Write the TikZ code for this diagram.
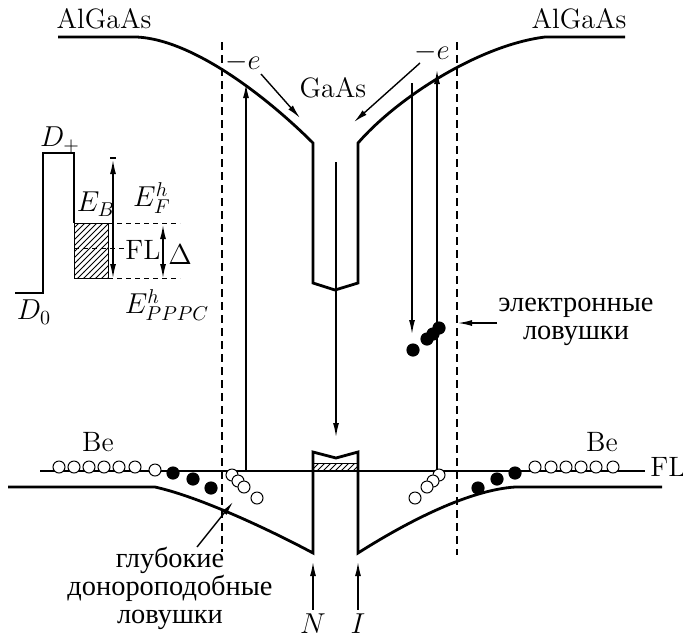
\documentclass[tikz,border=0pt]{standalone}
\usepackage{fontspec}
\newfontfamily\cyrfont{Liberation Serif}
\usetikzlibrary{arrows.meta,positioning,patterns}

\begin{document}
\begin{tikzpicture}[
        x=0.5pt, y=-0.5pt,
        >={Latex[length=7pt,width=3pt]},
        band/.style={line width=1.4pt, line join=miter},
        wire/.style={line width=0.7pt},
        guide/.style={line width=0.7pt, dash pattern=on 4pt off 2.5pt},
        fine/.style={line width=0.5pt, dash pattern=on 2.5pt off 2pt},
        arrow/.style={->, line width=0.7pt},
        lbl/.style={font=\fontsize{14}{16}\selectfont, inner sep=0pt},
        cyr/.style={font=\cyrfont\fontsize{14.2}{14}\selectfont, align=center, inner sep=0pt},
        hole/.style={draw, fill=white, line width=0.5pt},
        electron/.style={fill=black},
        hatch/.style={draw, line width=0.5pt, pattern=north east lines}
    ]
        \useasboundingbox (0,0) rectangle (683,638);

        % conduction band edge
        \draw[band] (58,37) -- (137,37) .. controls (195,40) and (270,100) .. (313,143)
            -- (313,283) -- (335,290) -- (358,283) -- (358,143)
            .. controls (398,97) and (480,45) .. (545,37) -- (625,37);
        % valence band edge
        \draw[band] (8,487) -- (155,487) .. controls (200,497) and (270,530) .. (313,553)
            -- (313,452) -- (336,458) -- (358,452) -- (358,553)
            .. controls (410,520) and (470,490) .. (515,487) -- (662,487);
        \draw[hatch] (313,463) rectangle (358,471);

        % Fermi level and boundaries
        \coordinate (flL) at (40,471);
        \coordinate (flR) at (645,471);
        \draw[wire] (flL) -- (flR);
        \node[lbl, anchor=west] (fl) at (650,467) {FL};
        \draw[guide] (222,42) -- (222,552);
        \draw[guide] (457,42) -- (457,555);

        % labels
        \node[lbl] (algaasL) at (104,19) {AlGaAs};
        \node[lbl] (algaasR) at (579,19) {AlGaAs};
        \node[lbl] (gaas) at (333,88) {GaAs};
        \node[lbl] (beL) at (98,442) {Be};
        \node[lbl] (beR) at (602,442) {Be};
        \node[lbl] (eL) at (243,62) {$-e$};
        \node[lbl] (eR) at (432,52) {$-e$};
        \node[lbl] (N) at (313,624) {$N$};
        \node[lbl] (I) at (358,624) {$I$};
        \node[cyr] (etrap) at (576,322) {электронные\\ловушки};
        \node[cyr] (dtrap) at (170,588) {глубокие\\донороподобные\\ловушки};

        % transitions
        \coordinate (upL0) at (246,471);
        \coordinate (upL1) at (246,84);
        \coordinate (upR0) at (437,471);
        \coordinate (upR1) at (437,70);
        \coordinate (dnR0) at (412,83);
        \coordinate (dnR1) at (412,334);
        \coordinate (dnC0) at (336,162);
        \coordinate (dnC1) at (336,437);
        \draw[arrow] (upL0) -- (upL1);
        \draw[arrow] (upR0) -- (upR1);
        \draw[arrow] (dnR0) -- (dnR1);
        \draw[arrow] (dnC0) -- (dnC1);

        \coordinate (inL) at (300,118);
        \coordinate (inR) at (354,122);
        \draw[arrow] (261,74) -- (inL);
        \draw[arrow] (420,63) -- (inR);

        \coordinate (etrapTip) at (458,323);
        \coordinate (dtrapTip) at (233,502);
        \coordinate (wellN) at (313,562);
        \coordinate (wellI) at (358,562);
        \draw[arrow] (497,323) -- (etrapTip);
        \draw[arrow] (197,547) -- (dtrapTip);
        \draw[arrow] (N.north) ++(0,-4) -- (wellN);
        \draw[arrow] (I.north) ++(0,-4) -- (wellI);

        % traps and acceptors
        \foreach \x in {59,74,89,104,119,135} \draw[hole] (\x,467) circle[radius=3pt];
        \foreach \x in {535,551,566,581,596,613} \draw[hole] (\x,467) circle[radius=3pt];
        \foreach \p in {(155,470),(232,475),(238,481),(244,487),(257,498),
                        (439,475),(433,481),(427,487),(415,498)}
            \draw[hole] \p circle[radius=3pt];
        \foreach \p in {(173,473),(193,479),(211,488),(478,488),(497,479),(515,473),
                        (413,350),(427,339),(433,334),(439,328)}
            \fill[electron] \p circle[radius=3.3pt];

        % inset: donor levels
        \draw[wire] (15,293) -- (43,293) -- (43,153) -- (74,153) -- (74,223);
        \draw[hatch] (74,223) rectangle (108,278);
        \draw[fine] (108,223) -- (180,223);
        \draw[fine] (108,278) -- (180,278);
        \draw[fine] (74,248) -- (126,248);
        \draw[wire] (110,158) -- (116,158);
        \draw[wire, <->] (113,160) -- (113,278);
        \draw[wire, <->] (163,225) -- (163,278);
        \node[lbl] (dplus) at (60,140) {$D_+$};
        \node[lbl] (dzero) at (34,312) {$D_0$};
        \node[lbl] (eb) at (96,204) {$E_B$};
        \node[lbl] (efh) at (152,198) {$E_F^h$};
        \node[lbl] (flin) at (143,250) {FL};
        \node[lbl] (delta) at (180,255) {$\Delta$};
        \node[lbl] (eppc) at (167,305) {$E_{PPPC}^h$};
    \end{tikzpicture}
\end{document}
